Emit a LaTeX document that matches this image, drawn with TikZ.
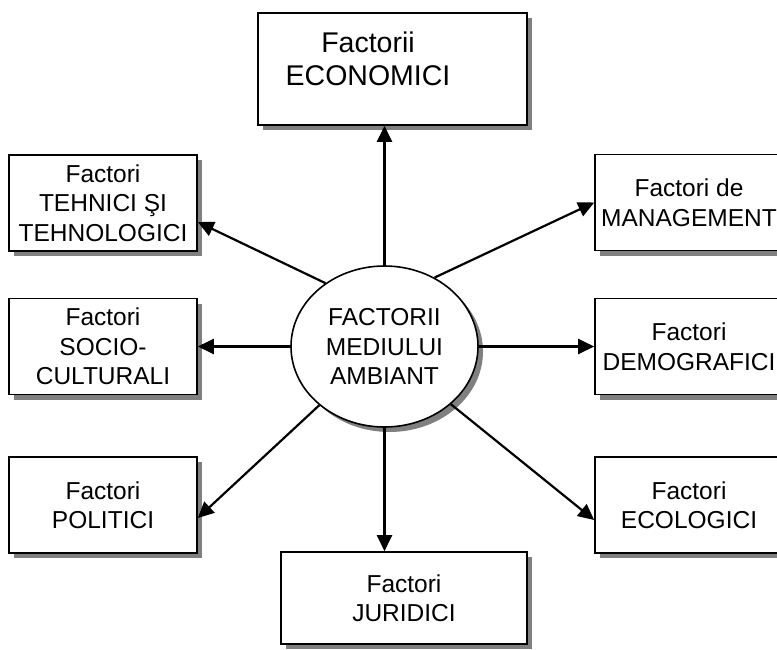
\documentclass[tikz,border=0pt]{standalone}
\usepackage{fontspec}
\setmainfont{Liberation Sans}
\usetikzlibrary{shapes.geometric, shadows, arrows.meta}
\tikzstyle{umbra}=[drop shadow={shadow xshift=5pt, shadow yshift=-5pt, fill=black!50, opacity=1}]
\tikzstyle{caseta}=[draw, line width=1.6pt, fill=white, rectangle, umbra, minimum width=188pt, minimum height=96pt, inner sep=0pt, align=center, font=\fontsize{24.5pt}{29.5pt}\selectfont]
\tikzstyle{elipsa}=[draw, line width=1.6pt, fill=white, ellipse, umbra, minimum width=187pt, minimum height=161pt, inner sep=0pt, align=center, font=\fontsize{24.5pt}{29.5pt}\selectfont]
\tikzstyle{sageata}=[line width=2.2pt, -{Triangle[length=16pt, width=15pt]}]

\begin{document}
\begin{tikzpicture}[x=1pt, y=-1pt]
    \useasboundingbox (0, 0) rectangle (777, 649);
% Boxes
    \node[caseta, minimum width=269pt, minimum height=112pt] (econ) at (392.5, 69) {};
    \node[inner sep=0pt, align=center, font=\fontsize{28.5pt}{33pt}\selectfont] (econtext) at (368, 58.5) {Factorii\\ECONOMICI};
    \node[caseta] (tehnic) at (103, 203) {Factori\\TEHNICI ŞI\\TEHNOLOGICI};
    \node[caseta] (socio) at (103, 346.5) {Factori\\SOCIO-\\CULTURALI};
    \node[caseta] (politic) at (103, 505) {Factori\\POLITICI};
    \node[caseta] (manag) at (689, 202.5) {Factori de\\MANAGEMENT};
    \node[caseta] (demog) at (689, 346.5) {Factori\\DEMOGRAFICI};
    \node[caseta] (ecolog) at (689, 505) {Factori\\ECOLOGICI};
    \node[caseta, minimum width=246pt, minimum height=92pt] (jurid) at (404, 598) {Factori\\JURIDICI};
% Centre
    \node[elipsa] (mediu) at (384.5, 346.5) {FACTORII\\MEDIULUI\\AMBIANT};
% Arrows
    \draw[sageata] (mediu.north) -- (mediu.north |- econ.south);
    \draw[sageata] (mediu.133) -- ([yshift=-19pt]tehnic.east);
    \draw[sageata] (mediu.54) -- (manag.west);
    \draw[sageata] (mediu.west) -- (socio.east);
    \draw[sageata] (mediu.east) -- (demog.west);
    \draw[sageata] (mediu.222) -- ([yshift=-13pt]politic.east);
    \draw[sageata] (mediu.319) -- ([yshift=-15pt]ecolog.west);
    \draw[sageata] (mediu.south) -- (mediu.south |- jurid.north);
\end{tikzpicture}
\end{document}
